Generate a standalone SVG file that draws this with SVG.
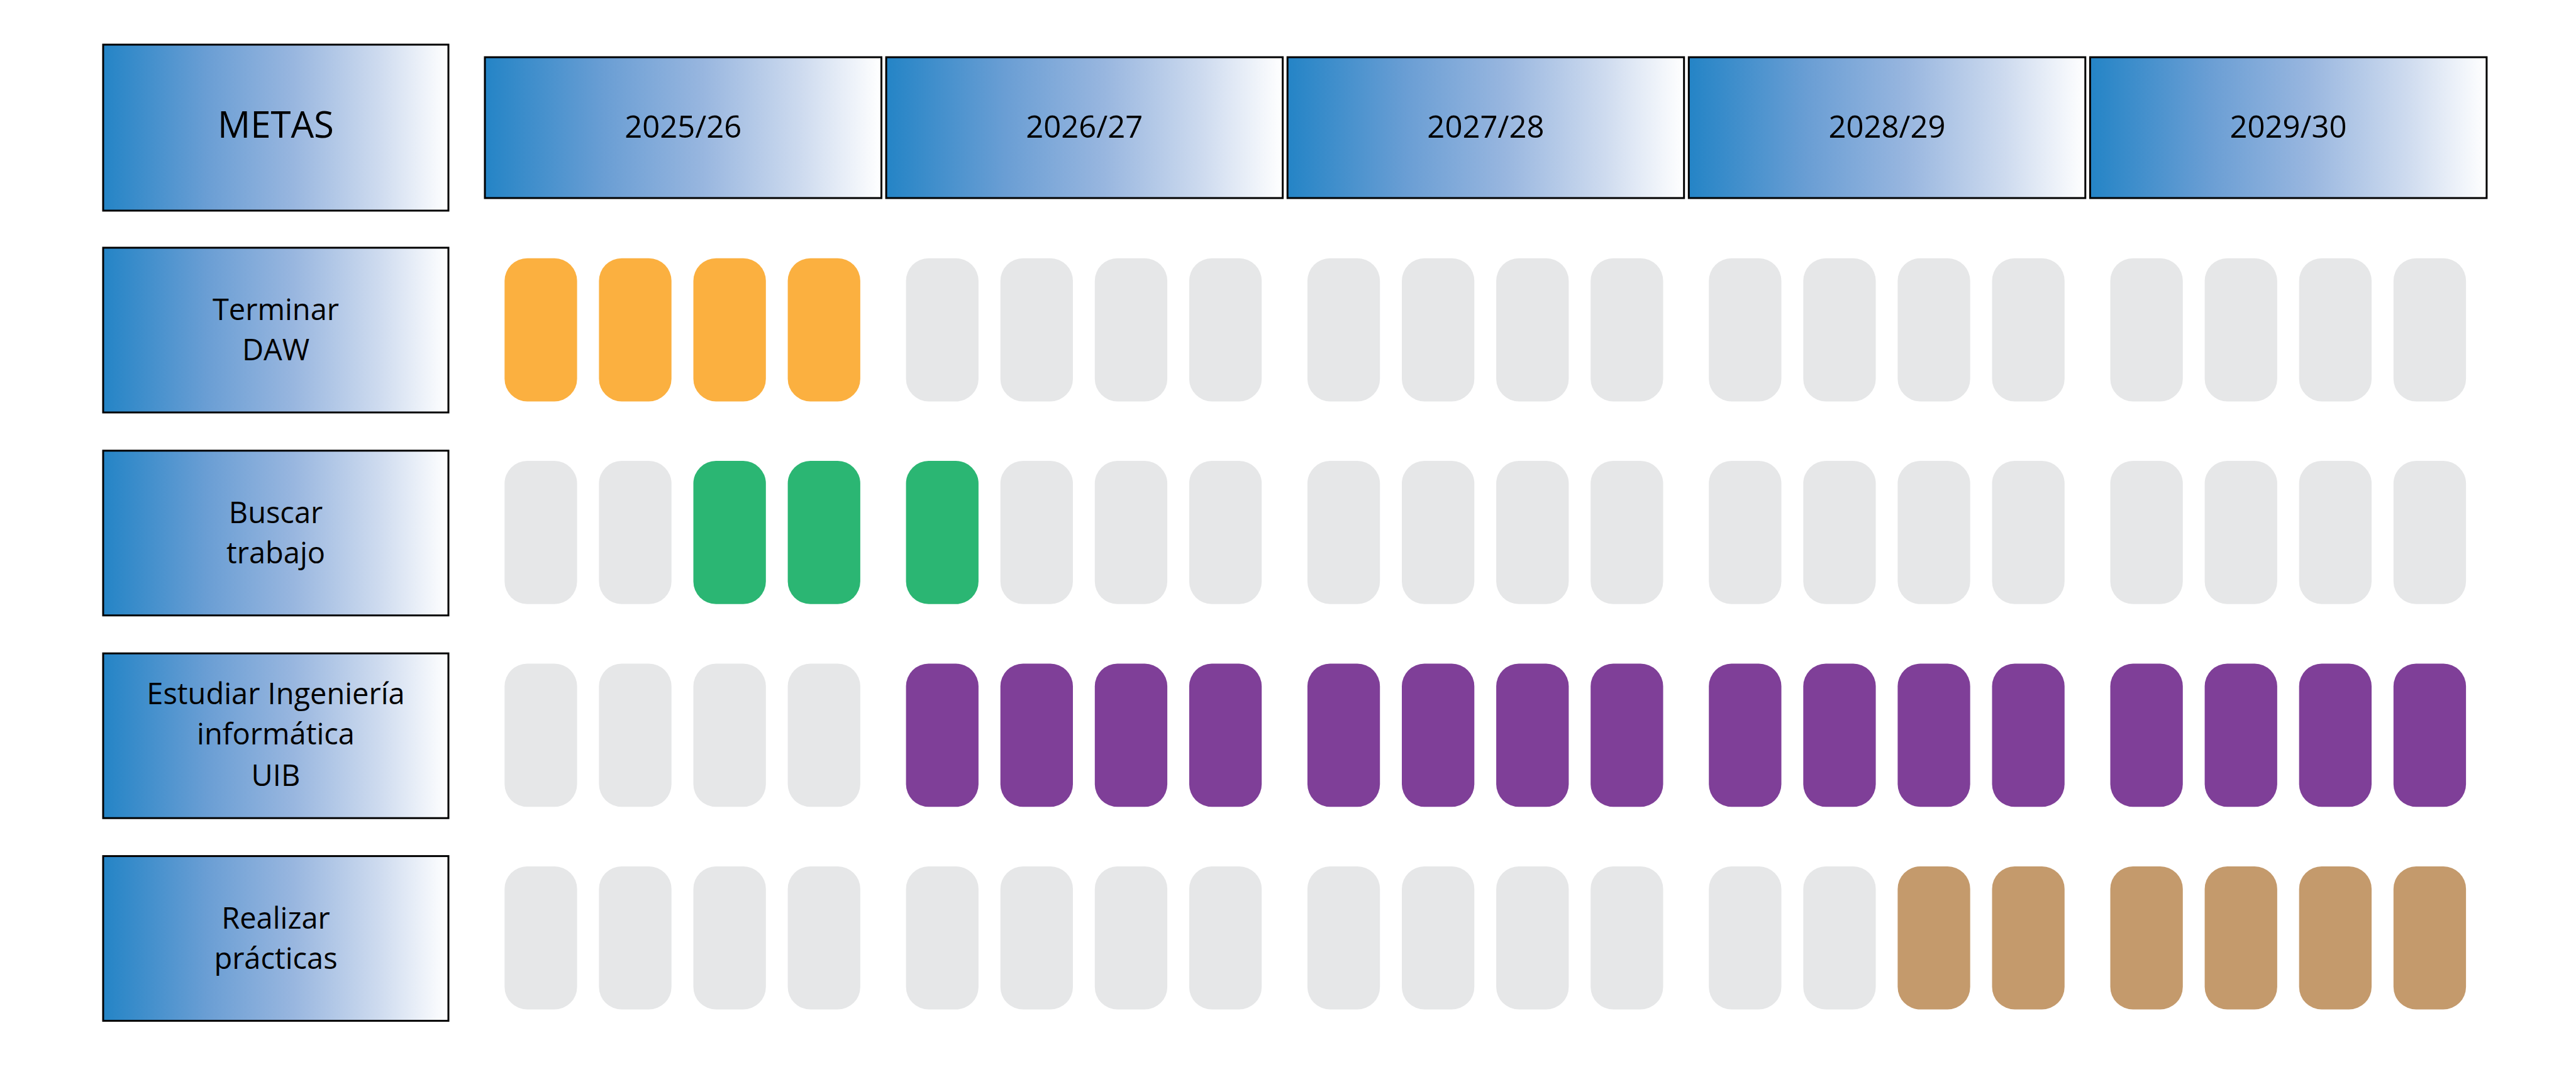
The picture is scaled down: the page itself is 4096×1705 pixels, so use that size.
<svg xmlns="http://www.w3.org/2000/svg" width="4096" height="1705" viewBox="0 0 4096 1705">
<defs>
<linearGradient id="blueGrad" x1="0" y1="0" x2="1" y2="0">
<stop offset="0" stop-color="#2484C6"/>
<stop offset="0.3" stop-color="#6A9ED4"/>
<stop offset="0.55" stop-color="#98B6DF"/>
<stop offset="0.8" stop-color="#CEDBEF"/>
<stop offset="1" stop-color="#FFFFFF"/>
</linearGradient>
<style>
.box{fill:url(#blueGrad);stroke:#000;stroke-width:3}
.lbl{font-family:"Open Sans","Noto Sans","Liberation Sans",sans-serif;font-size:47px;fill:#000;text-anchor:middle}
.hdr{font-family:"Open Sans","Noto Sans","Liberation Sans",sans-serif;font-size:49px;fill:#000;text-anchor:middle}
.big{font-family:"Open Sans","Noto Sans","Liberation Sans",sans-serif;font-size:58px;fill:#000;text-anchor:middle}
.p{rx:36px;ry:36px}
.g{fill:#E6E7E8}
.o{fill:#FBB040}
.gr{fill:#2BB673}
.pu{fill:#7F3F98}
.t{fill:#C49A6C}
</style>
</defs>
<rect width="4096" height="1705" fill="#FFFFFF"/>

<g id="metas">
<rect class="box" x="164" y="71" width="549" height="264"/>
<text class="big" x="438.5" y="219">METAS</text>
</g>

<g id="year-2025-26">
<rect class="box" x="771" y="91" width="630.5" height="224"/>
<text class="hdr" x="1086.2" y="219">2025/26</text>
</g>
<g id="year-2026-27">
<rect class="box" x="1409.1" y="91" width="630.5" height="224"/>
<text class="hdr" x="1724.3" y="219">2026/27</text>
</g>
<g id="year-2027-28">
<rect class="box" x="2047.2" y="91" width="630.5" height="224"/>
<text class="hdr" x="2362.4" y="219">2027/28</text>
</g>
<g id="year-2028-29">
<rect class="box" x="2685.3" y="91" width="630.5" height="224"/>
<text class="hdr" x="3000.5" y="219">2028/29</text>
</g>
<g id="year-2029-30">
<rect class="box" x="3323.4" y="91" width="630.5" height="224"/>
<text class="hdr" x="3638.6" y="219">2029/30</text>
</g>

<g id="goal-terminar-daw">
<rect class="box" x="164" y="394" width="549" height="262"/>
<text class="lbl" x="438.5" y="509">Terminar</text>
<text class="lbl" x="438.5" y="573">DAW</text>
</g>
<g id="goal-buscar-trabajo">
<rect class="box" x="164" y="716.8" width="549" height="262"/>
<text class="lbl" x="438.5" y="831.8">Buscar</text>
<text class="lbl" x="438.5" y="895.8">trabajo</text>
</g>
<g id="goal-estudiar">
<rect class="box" x="164" y="1039.2" width="549" height="262"/>
<text class="lbl" x="438.5" y="1120.2">Estudiar Ingeniería</text>
<text class="lbl" x="438.5" y="1184.2">informática</text>
<text class="lbl" x="438.5" y="1250.2">UIB</text>
</g>
<g id="goal-realizar-practicas">
<rect class="box" x="164" y="1361.6" width="549" height="262"/>
<text class="lbl" x="438.5" y="1476.6">Realizar</text>
<text class="lbl" x="438.5" y="1540.6">prácticas</text>
</g>

<g id="row-terminar-daw">
<rect class="p o" x="802.3" y="410.7" width="115.3" height="227.7"/>
<rect class="p o" x="952.4" y="410.7" width="115.3" height="227.7"/>
<rect class="p o" x="1102.5" y="410.7" width="115.3" height="227.7"/>
<rect class="p o" x="1252.6" y="410.7" width="115.3" height="227.7"/>
<rect class="p g" x="1440.6" y="410.7" width="115.3" height="227.7"/>
<rect class="p g" x="1590.7" y="410.7" width="115.3" height="227.7"/>
<rect class="p g" x="1740.8" y="410.7" width="115.3" height="227.7"/>
<rect class="p g" x="1890.9" y="410.7" width="115.3" height="227.7"/>
<rect class="p g" x="2078.9" y="410.7" width="115.3" height="227.7"/>
<rect class="p g" x="2229.0" y="410.7" width="115.3" height="227.7"/>
<rect class="p g" x="2379.1" y="410.7" width="115.3" height="227.7"/>
<rect class="p g" x="2529.2" y="410.7" width="115.3" height="227.7"/>
<rect class="p g" x="2717.2" y="410.7" width="115.3" height="227.7"/>
<rect class="p g" x="2867.3" y="410.7" width="115.3" height="227.7"/>
<rect class="p g" x="3017.4" y="410.7" width="115.3" height="227.7"/>
<rect class="p g" x="3167.5" y="410.7" width="115.3" height="227.7"/>
<rect class="p g" x="3355.5" y="410.7" width="115.3" height="227.7"/>
<rect class="p g" x="3505.6" y="410.7" width="115.3" height="227.7"/>
<rect class="p g" x="3655.7" y="410.7" width="115.3" height="227.7"/>
<rect class="p g" x="3805.8" y="410.7" width="115.3" height="227.7"/>
</g>

<g id="row-buscar-trabajo">
<rect class="p g" x="802.3" y="733.1" width="115.3" height="227.7"/>
<rect class="p g" x="952.4" y="733.1" width="115.3" height="227.7"/>
<rect class="p gr" x="1102.5" y="733.1" width="115.3" height="227.7"/>
<rect class="p gr" x="1252.6" y="733.1" width="115.3" height="227.7"/>
<rect class="p gr" x="1440.6" y="733.1" width="115.3" height="227.7"/>
<rect class="p g" x="1590.7" y="733.1" width="115.3" height="227.7"/>
<rect class="p g" x="1740.8" y="733.1" width="115.3" height="227.7"/>
<rect class="p g" x="1890.9" y="733.1" width="115.3" height="227.7"/>
<rect class="p g" x="2078.9" y="733.1" width="115.3" height="227.7"/>
<rect class="p g" x="2229.0" y="733.1" width="115.3" height="227.7"/>
<rect class="p g" x="2379.1" y="733.1" width="115.3" height="227.7"/>
<rect class="p g" x="2529.2" y="733.1" width="115.3" height="227.7"/>
<rect class="p g" x="2717.2" y="733.1" width="115.3" height="227.7"/>
<rect class="p g" x="2867.3" y="733.1" width="115.3" height="227.7"/>
<rect class="p g" x="3017.4" y="733.1" width="115.3" height="227.7"/>
<rect class="p g" x="3167.5" y="733.1" width="115.3" height="227.7"/>
<rect class="p g" x="3355.5" y="733.1" width="115.3" height="227.7"/>
<rect class="p g" x="3505.6" y="733.1" width="115.3" height="227.7"/>
<rect class="p g" x="3655.7" y="733.1" width="115.3" height="227.7"/>
<rect class="p g" x="3805.8" y="733.1" width="115.3" height="227.7"/>
</g>

<g id="row-estudiar">
<rect class="p g" x="802.3" y="1055.5" width="115.3" height="227.7"/>
<rect class="p g" x="952.4" y="1055.5" width="115.3" height="227.7"/>
<rect class="p g" x="1102.5" y="1055.5" width="115.3" height="227.7"/>
<rect class="p g" x="1252.6" y="1055.5" width="115.3" height="227.7"/>
<rect class="p pu" x="1440.6" y="1055.5" width="115.3" height="227.7"/>
<rect class="p pu" x="1590.7" y="1055.5" width="115.3" height="227.7"/>
<rect class="p pu" x="1740.8" y="1055.5" width="115.3" height="227.7"/>
<rect class="p pu" x="1890.9" y="1055.5" width="115.3" height="227.7"/>
<rect class="p pu" x="2078.9" y="1055.5" width="115.3" height="227.7"/>
<rect class="p pu" x="2229.0" y="1055.5" width="115.3" height="227.7"/>
<rect class="p pu" x="2379.1" y="1055.5" width="115.3" height="227.7"/>
<rect class="p pu" x="2529.2" y="1055.5" width="115.3" height="227.7"/>
<rect class="p pu" x="2717.2" y="1055.5" width="115.3" height="227.7"/>
<rect class="p pu" x="2867.3" y="1055.5" width="115.3" height="227.7"/>
<rect class="p pu" x="3017.4" y="1055.5" width="115.3" height="227.7"/>
<rect class="p pu" x="3167.5" y="1055.5" width="115.3" height="227.7"/>
<rect class="p pu" x="3355.5" y="1055.5" width="115.3" height="227.7"/>
<rect class="p pu" x="3505.6" y="1055.5" width="115.3" height="227.7"/>
<rect class="p pu" x="3655.7" y="1055.5" width="115.3" height="227.7"/>
<rect class="p pu" x="3805.8" y="1055.5" width="115.3" height="227.7"/>
</g>

<g id="row-realizar-practicas">
<rect class="p g" x="802.3" y="1377.9" width="115.3" height="227.7"/>
<rect class="p g" x="952.4" y="1377.9" width="115.3" height="227.7"/>
<rect class="p g" x="1102.5" y="1377.9" width="115.3" height="227.7"/>
<rect class="p g" x="1252.6" y="1377.9" width="115.3" height="227.7"/>
<rect class="p g" x="1440.6" y="1377.9" width="115.3" height="227.7"/>
<rect class="p g" x="1590.7" y="1377.9" width="115.3" height="227.7"/>
<rect class="p g" x="1740.8" y="1377.9" width="115.3" height="227.7"/>
<rect class="p g" x="1890.9" y="1377.9" width="115.3" height="227.7"/>
<rect class="p g" x="2078.9" y="1377.9" width="115.3" height="227.7"/>
<rect class="p g" x="2229.0" y="1377.9" width="115.3" height="227.7"/>
<rect class="p g" x="2379.1" y="1377.9" width="115.3" height="227.7"/>
<rect class="p g" x="2529.2" y="1377.9" width="115.3" height="227.7"/>
<rect class="p g" x="2717.2" y="1377.9" width="115.3" height="227.7"/>
<rect class="p g" x="2867.3" y="1377.9" width="115.3" height="227.7"/>
<rect class="p t" x="3017.4" y="1377.9" width="115.3" height="227.7"/>
<rect class="p t" x="3167.5" y="1377.9" width="115.3" height="227.7"/>
<rect class="p t" x="3355.5" y="1377.9" width="115.3" height="227.7"/>
<rect class="p t" x="3505.6" y="1377.9" width="115.3" height="227.7"/>
<rect class="p t" x="3655.7" y="1377.9" width="115.3" height="227.7"/>
<rect class="p t" x="3805.8" y="1377.9" width="115.3" height="227.7"/>
</g>

<g id="connectors"></g>
</svg>
